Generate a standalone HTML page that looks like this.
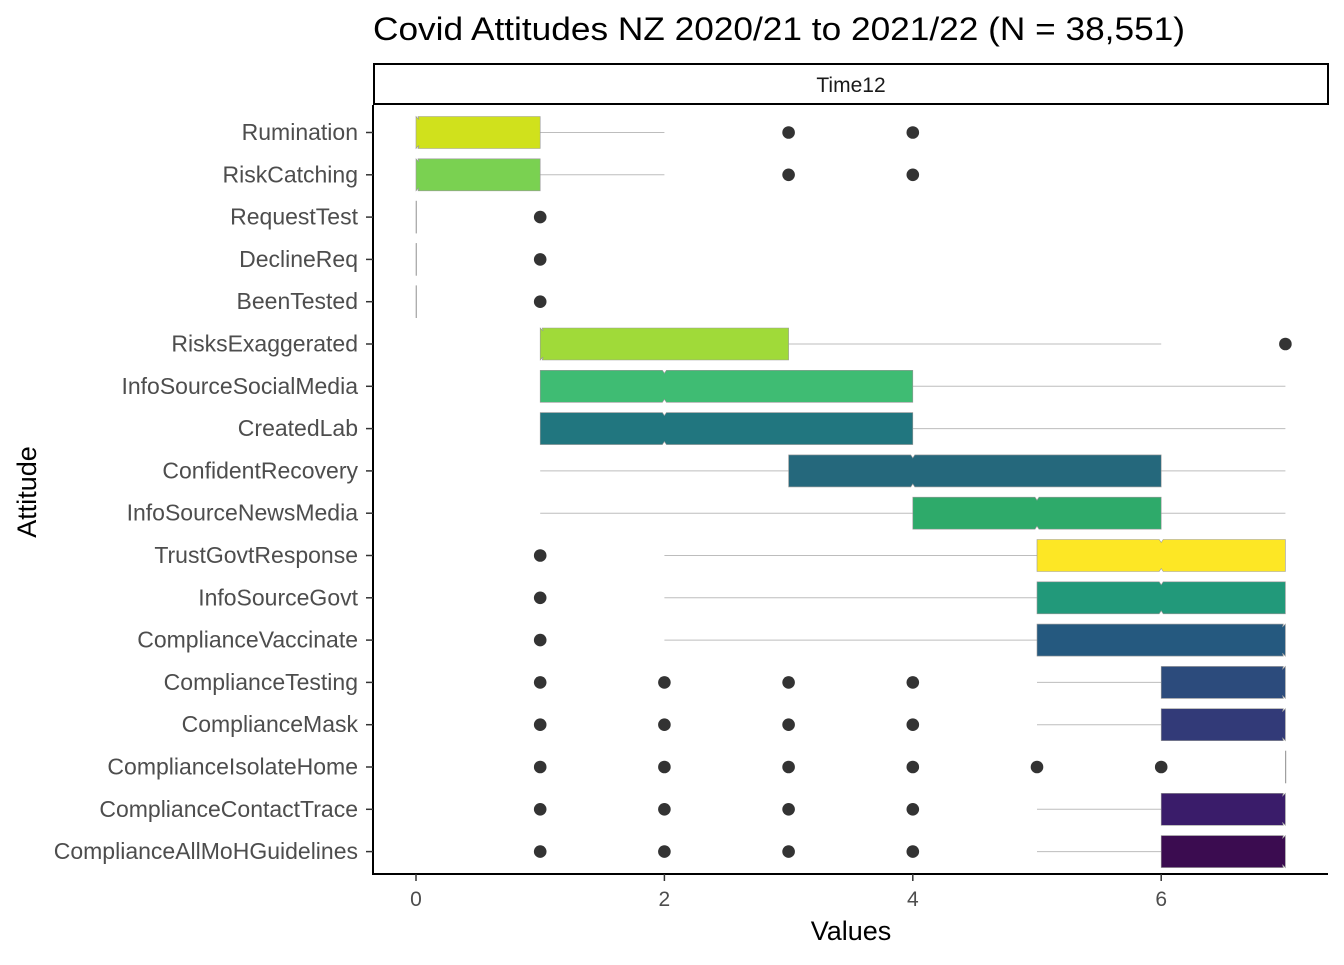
<!DOCTYPE html>
<html><head><meta charset="utf-8"><style>
body{margin:0;background:#fff}
svg{font-family:"Liberation Sans",Arial,sans-serif}
</style></head><body>
<svg id="c" width="1344" height="960" xmlns="http://www.w3.org/2000/svg">
<rect width="1344" height="960" fill="#fff"/>
<text x="373" y="40" font-size="32" textLength="812" lengthAdjust="spacingAndGlyphs" fill="#000">Covid Attitudes NZ 2020/21 to 2021/22 (N = 38,551)</text>
<rect x="374" y="64" width="954" height="40" fill="#fff" stroke="#000" stroke-width="2"/>
<text x="851" y="92" font-size="21" text-anchor="middle" fill="#1a1a1a">Time12</text>
<g id="marks"></g>
<line x1="373" y1="105" x2="373" y2="875" stroke="#000" stroke-width="2"/>
<line x1="372" y1="874" x2="1328" y2="874" stroke="#000" stroke-width="2"/>
<g id="axes"></g>
<text x="851" y="940" font-size="27" text-anchor="middle" fill="#000">Values</text>
<text transform="translate(36,492) rotate(-90)" font-size="27" text-anchor="middle" fill="#000">Attitude</text>
</svg>
<script>
const categories=["Rumination","RiskCatching","RequestTest","DeclineReq","BeenTested","RisksExaggerated","InfoSourceSocialMedia","CreatedLab","ConfidentRecovery","InfoSourceNewsMedia","TrustGovtResponse","InfoSourceGovt","ComplianceVaccinate","ComplianceTesting","ComplianceMask","ComplianceIsolateHome","ComplianceContactTrace","ComplianceAllMoHGuidelines"];
const lowerWhisker=[0,0,0,0,0,1,1,1,1,1,2,2,2,5,5,7,5,5];
const q1=[0,0,0,0,0,1,1,1,3,4,5,5,5,6,6,7,6,6];
const median=[0,0,0,0,0,1,2,2,4,5,6,6,7,7,7,7,7,7];
const q3=[1,1,0,0,0,3,4,4,6,6,7,7,7,7,7,7,7,7];
const upperWhisker=[2,2,0,0,0,6,7,7,7,7,7,7,7,7,7,7,7,7];
const outliers=[[3,4],[3,4],[1],[1],[1],[7],[],[],[],[],[1],[1],[1],[1,2,3,4],[1,2,3,4],[1,2,3,4,5,6],[1,2,3,4],[1,2,3,4]];
const colors=["#d0e11c","#7ad151","#888","#888","#888","#a0da39","#3fbc73","#21767f","#25687c","#2eaa6a","#fde725","#22997a","#25597f","#2c4b7c","#323a78","#888","#3a1c6a","#3b0c50"];
const xTicks=[0,2,4,6];
const NS="http://www.w3.org/2000/svg";
const X=v=>416+v*124.2;
const Y=i=>132.5+i*42.3;
const g=document.getElementById('marks'),ax=document.getElementById('axes');
function el(t,a,p){const e=document.createElementNS(NS,t);for(const k in a)e.setAttribute(k,a[k]);p.appendChild(e);return e;}
categories.forEach((c,i)=>{
  const y=Y(i),h=16;
  const w1=el('line',{x1:X(lowerWhisker[i]),x2:X(q1[i]),y1:y,y2:y,stroke:'#bdbdbd','stroke-width':1},g);
  
  
  const w2=el('line',{x1:X(q3[i]),x2:X(upperWhisker[i]),y1:y,y2:y,stroke:'#bdbdbd','stroke-width':1},g);
  
  
  const a=X(q1[i]),b=X(q3[i]),m=X(median[i]),n=3;
  let pts;
  if(b-a<1){pts=`${a},${y-h} ${a+0.5},${y-h} ${a+0.5},${y+h} ${a},${y+h}`;}
  else{
    const ml=Math.max(a,m-2),mr=Math.min(b,m+2),mm=m+(m<=a?n:m>=b?-n:0);
    pts=`${a},${y-h} ${ml},${y-h} ${mm},${y-h+n} ${mr},${y-h} ${b},${y-h} ${b},${y+h} ${mr},${y+h} ${mm},${y+h-n} ${ml},${y+h} ${a},${y+h}`;
  }
  const bx=el('polygon',{points:pts,fill:colors[i],stroke:'#999','stroke-width':0.6},g);
  
  
  outliers[i].forEach(v=>{
    const d=el('circle',{cx:X(v),cy:y,r:6.3,fill:'#333'},g);
    
    
  });
  const tk=el('line',{x1:366,x2:373,y1:y,y2:y,stroke:'#333','stroke-width':1.5},ax);
  
  
  const t=el('text',{x:358,y:y+7.5,'font-size':23,'text-anchor':'end',fill:'#4d4d4d'},ax);
  t.textContent=c;
  
  
});
xTicks.forEach(v=>{
  const tk=el('line',{x1:X(v),x2:X(v),y1:874,y2:881,stroke:'#333','stroke-width':1.5},ax);
  
  
  const t=el('text',{x:X(v),y:906,'font-size':21,'text-anchor':'middle',fill:'#4d4d4d'},ax);
  t.textContent=v;
  
  
});
</script>
</body></html>
